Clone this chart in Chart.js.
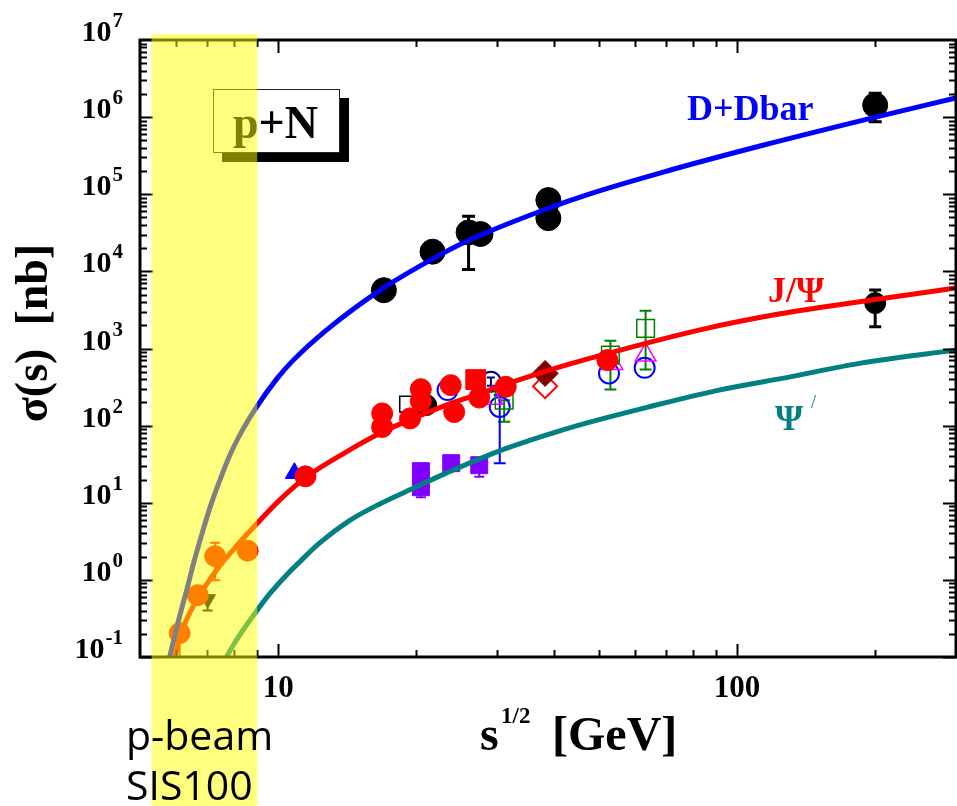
<!DOCTYPE html>
<html>
<head>
<meta charset="utf-8">
<title>p+N open and hidden charm cross sections</title>
<script src="https://cdn.jsdelivr.net/npm/chart.js@4.4.1/dist/chart.umd.min.js"></script>
<style>
  body { margin: 0; background: #fff; }
  canvas { display: block; }
</style>
</head>
<body>
<canvas id="chart" width="957" height="806"></canvas>
<script>
// model curves: sqrt(s) [GeV] vs sigma [nb]
const dDbarCurveX = [5.80, 5.95, 6.10, 6.32, 6.57, 6.84, 7.12, 7.45, 7.83, 8.36, 8.97, 9.92, 10.74, 12.74, 16.95, 21.67, 26.09, 38.36, 47.6, 67.9, 114.4, 200.5, 299.4];
const dDbarCurveY = [0.1, 0.186, 0.338, 0.735, 1.80, 4.16, 9.04, 19.06, 40.2, 87.4, 174, 401, 686, 1734, 6072, 14440, 25470, 64270, 100600, 188400, 434600, 1.0e6, 1.77e6];

const jpsiCurveX = [5.95, 6.10, 6.28, 6.64, 7.34, 8.11, 8.97, 10.07, 11.52, 13.94, 16.87, 19.31, 23.24, 26.48, 31.39, 40.95, 52.6, 82.6, 123.3, 203.5, 299.4];
const jpsiCurveY = [0.1, 0.175, 0.283, 0.546, 1.336, 2.74, 5.28, 10.8, 21.5, 44.0, 82.4, 117.8, 184.5, 241.3, 345.4, 574, 871.5, 1733, 2794, 4372, 6072];

const psiPrimeCurveX = [7.72, 8.03, 8.53, 8.97, 9.57, 10.42, 11.12, 12.30, 14.30, 16.61, 19.60, 23.24, 29.87, 38.36, 45.26, 63.95, 91.3, 129.7, 186.0, 299.4];
const psiPrimeCurveY = [0.1, 0.151, 0.259, 0.393, 0.652, 1.151, 1.696, 2.99, 5.86, 9.59, 15.2, 24.2, 45.3, 75.3, 101.5, 173.8, 288.7, 425.6, 646.6, 953];

// D + Dbar data
const dMesonX = [17.0, 21.7, 26.0, 27.6, 38.8, 38.8, 200];
const dMesonY = [5700, 18000, 32000, 30500, 84000, 49000, 1.43e6];
const dMesonLo = [null, null, 10600, null, null, null, 870000];
const dMesonHi = [null, null, 52000, null, null, null, 2.04e6];

// J/psi data
const jpsiX = [11.47, 16.85, 16.85, 19.38, 20.46, 20.46, 23.77, 24.19, 27.43, 31.33, 52.17];
const jpsiY = [22, 144, 96, 124, 297, 208, 335, 150, 231, 319, 708];
const jpsiLowX = [6.10, 6.68, 7.29, 8.58];
const jpsiLowY = [0.204, 0.634, 2.03, 2.39];
const jpsiLowLo = [0.1, null, 0.99, null];
const jpsiLowHi = [0.245, null, 3.02, null];
const jpsiSquareX = [26.95];
const jpsiSquareY = [395];
const diamondX = [38.17];
const diamondY = [475];
const openDiamondX = [38.17];
const openDiamondY = [325];
const blueTriangleX = [10.85];
const blueTriangleY = [24.2];
const downTriangleX = [7.02];
const downTriangleY = [0.562];
const downTriangleLo = [0.40];
const downTriangleHi = [0.62];
const blackJpsiX = [21.02, 200];
const blackJpsiY = [184.5, 3880];
const blackJpsiLo = [null, 1912];
const blackJpsiHi = [null, 5720];
const openSquareX = [19.14];
const openSquareY = [190];
const greenX = [31.08, 52.97, 63.2];
const greenY = [214, 821, 1823];
const greenLo = [112, 295, 535];
const greenHi = [214, 1259, 3083];
const magentaX = [29.3, 53.5, 63.2];
const magentaY = [227, 640, 821];
const openCircleX = [23.4, 30.4, 52.6, 62.9];
const openCircleY = [289, 175, 475, 562];
const openCircleLo = [null, 32.4, null, null];
const openCircleHi = [null, 249, null, null];
const navyX = [29.08];
const navyY = [370];
const navyLo = [330];
const navyHi = [420];

// psi' data
const psiPrimeX = [20.47, 20.47, 23.83, 27.43];
const psiPrimeY = [25.7, 15.9, 32.6, 30.7];
const psiPrimeLo = [null, 11.8, null, 21.7];
const psiPrimeHi = [null, 15.9, null, 30.7];

// axes
const yTickExponents = [-1, 0, 1, 2, 3, 4, 5, 6, 7];
const xTickValues = [10, 100];
const xTickLabels = ['10', '100'];
const sisBand = [5.3, 9.0];

const serif = '"Liberation Serif", "Times New Roman", serif';

const points = (xs, ys) => xs.map((v, i) => ({ x: v, y: ys[i] }));

const curve = (xs, ys, color) => ({
  data: points(xs, ys),
  showLine: true,
  borderColor: color,
  borderWidth: 5,
  pointRadius: 0,
  cubicInterpolationMode: 'monotone',
  fill: false,
});

const marker = (xs, ys, style, radius, fillColor, lineColor, extra) => Object.assign({
  data: points(xs, ys),
  pointStyle: style,
  pointRadius: radius,
  pointBackgroundColor: fillColor,
  pointBorderColor: lineColor,
  pointBorderWidth: 1,
}, extra || {});

const datasets = [
  curve(dDbarCurveX, dDbarCurveY, '#0000ff'),
  curve(jpsiCurveX, jpsiCurveY, '#ff0000'),
  curve(psiPrimeCurveX, psiPrimeCurveY, '#008080'),
  marker(jpsiX, jpsiY, 'circle', 10.5, '#ff0000', '#ff0000'),
  marker(jpsiLowX, jpsiLowY, 'circle', 10.5, '#ff0000', '#ff0000', { errLo: jpsiLowLo, errHi: jpsiLowHi }),
  marker(jpsiSquareX, jpsiSquareY, 'rect', 14, '#ff0000', '#ff0000'),
  marker(diamondX, diamondY, 'rectRot', 13, '#800000', '#800000'),
  marker(openDiamondX, openDiamondY, 'rectRot', 12, 'transparent', '#ff0000', { pointBorderWidth: 2 }),
  marker(blueTriangleX, blueTriangleY, 'triangle', 10.5, '#0000ff', '#0000ff'),
  marker(downTriangleX, downTriangleY, 'triangle', 9, '#000000', '#000000', { pointRotation: 180, errLo: downTriangleLo, errHi: downTriangleHi }),
  marker(dMesonX, dMesonY, 'circle', 12.5, '#000000', '#000000', { errLo: dMesonLo, errHi: dMesonHi, errWidth: 3, capWidth: 13 }),
  marker(blackJpsiX, blackJpsiY, 'circle', 10.5, '#000000', '#000000', { errLo: blackJpsiLo, errHi: blackJpsiHi, errWidth: 3, capWidth: 12 }),
  marker(openSquareX, openSquareY, 'rect', 11, 'transparent', '#000000', { pointBorderWidth: 1.5 }),
  marker(psiPrimeX, psiPrimeY, 'rect', 12, '#8000ff', '#8000ff', { errLo: psiPrimeLo, errHi: psiPrimeHi, capWidth: 10 }),
  marker(greenX, greenY, 'rect', 12.5, 'transparent', '#008000', { pointBorderWidth: 1.5, errLo: greenLo, errHi: greenHi, capWidth: 12 }),
  marker(magentaX, magentaY, 'triangle', 12, 'transparent', '#ff00ff', { pointBorderWidth: 1.5 }),
  marker(openCircleX, openCircleY, 'circle', 10, 'transparent', '#0000ff', { pointBorderWidth: 2, errLo: openCircleLo, errHi: openCircleHi, capWidth: 12 }),
  marker(navyX, navyY, 'circle', 10, 'transparent', '#000080', { pointBorderWidth: 2, errLo: navyLo, errHi: navyHi, capWidth: 8 }),
];

// vertical error bars with caps, under the markers
const errorBars = {
  id: 'errorBars',
  beforeDatasetsDraw(chart) {
    const { ctx, scales: { x, y } } = chart;
    ctx.save();
    chart.data.datasets.forEach((ds) => {
      if (!ds.errLo) return;
      ctx.strokeStyle = ds.pointBorderColor;
      ctx.lineWidth = ds.errWidth || 2;
      const cap = (ds.capWidth || 10) / 2;
      ds.data.forEach((p, i) => {
        if (ds.errLo[i] == null) return;
        const px = x.getPixelForValue(p.x);
        const y0 = y.getPixelForValue(ds.errLo[i]);
        const y1 = y.getPixelForValue(ds.errHi[i]);
        ctx.beginPath();
        ctx.moveTo(px, y0);
        ctx.lineTo(px, y1);
        ctx.moveTo(px - cap, y0);
        ctx.lineTo(px + cap, y0);
        ctx.moveTo(px - cap, y1);
        ctx.lineTo(px + cap, y1);
        ctx.stroke();
      });
    });
    ctx.restore();
  },
};

// frame with inward log ticks, labels, annotations and the SIS100 band
const frame = {
  id: 'frame',
  beforeDraw(chart) {
    const { ctx, width, height } = chart;
    ctx.save();
    ctx.fillStyle = '#fff';
    ctx.fillRect(0, 0, width, height);
    ctx.restore();
  },
  afterDatasetsDraw(chart) {
    const { ctx, chartArea: { left, right, top, bottom }, scales: { x, y } } = chart;
    ctx.save();

    ctx.strokeStyle = '#000';
    ctx.lineWidth = 3;
    ctx.strokeRect(left, top, right - left, bottom - top);

    ctx.lineWidth = 2;
    ctx.beginPath();
    for (let e = -1; e < 7; e++) {
      for (let m = 1; m < 10; m++) {
        const py = Math.round(y.getPixelForValue(m * Math.pow(10, e))) + 0.5;
        const len = m === 1 ? 13 : 7;
        ctx.moveTo(left, py);
        ctx.lineTo(left + len, py);
        ctx.moveTo(right, py);
        ctx.lineTo(right - len, py);
      }
    }
    for (let e = 0; e < 3; e++) {
      for (let m = 1; m < 10; m++) {
        const v = m * Math.pow(10, e);
        if (v <= 5 || v >= 300) continue;
        const px = Math.round(x.getPixelForValue(v)) + 0.5;
        const len = m === 1 ? 13 : 7;
        ctx.moveTo(px, bottom);
        ctx.lineTo(px, bottom - len);
        ctx.moveTo(px, top);
        ctx.lineTo(px, top + len);
      }
    }
    ctx.stroke();

    // tick labels
    ctx.fillStyle = '#000';
    ctx.textBaseline = 'alphabetic';
    yTickExponents.forEach((e) => {
      const py = y.getPixelForValue(Math.pow(10, e)) + 1;
      const sup = e < 0 ? '-' + Math.abs(e) : String(e);
      ctx.textAlign = 'right';
      ctx.font = 'bold 21px ' + serif;
      ctx.fillText(sup, 123, py - 14);
      const w = ctx.measureText(sup).width;
      ctx.font = 'bold 30px ' + serif;
      ctx.fillText('10', 122 - w, py);
    });
    ctx.textAlign = 'center';
    ctx.font = 'bold 31px ' + serif;
    xTickValues.forEach((v, i) => {
      ctx.fillText(xTickLabels[i], x.getPixelForValue(v), 697);
    });

    // axis titles
    ctx.textAlign = 'left';
    ctx.font = 'bold 48px ' + serif;
    ctx.fillText('s', 480, 750);
    ctx.fillText('[GeV]', 552, 750);
    ctx.font = 'bold 23px ' + serif;
    ctx.fillText('1/2', 501, 723);

    ctx.save();
    ctx.translate(47, 333);
    ctx.rotate(-Math.PI / 2);
    ctx.textAlign = 'center';
    ctx.font = 'bold 46px ' + serif;
    ctx.fillText('σ(s)  [nb]', 0, 0);
    ctx.restore();

    // curve labels
    ctx.textAlign = 'left';
    ctx.font = 'bold 36px ' + serif;
    ctx.fillStyle = '#0000ff';
    ctx.fillText('D+Dbar', 687, 120);
    ctx.fillStyle = '#ff0000';
    ctx.fillText('J/Ψ', 768, 302);
    ctx.fillStyle = '#008080';
    ctx.fillText('Ψ', 775, 430);
    ctx.font = '18px ' + serif;
    ctx.fillText('/', 811, 408);

    // p+N box with drop shadow
    ctx.fillStyle = '#000';
    ctx.fillRect(222, 98, 127, 64);
    ctx.fillStyle = '#fff';
    ctx.fillRect(213, 89, 127, 64);
    ctx.strokeStyle = '#222';
    ctx.lineWidth = 1;
    ctx.strokeRect(213.5, 89.5, 126, 63);
    ctx.fillStyle = '#000';
    ctx.font = 'bold 46px ' + serif;
    ctx.fillText('p+N', 233, 138);

    // SIS100 proton beam range
    const bx0 = x.getPixelForValue(sisBand[0]);
    const bx1 = x.getPixelForValue(sisBand[1]);
    ctx.fillStyle = 'rgba(255, 255, 0, 0.5)';
    ctx.fillRect(bx0, top - 6, bx1 - bx0, chart.height - top + 6);

    ctx.fillStyle = '#000';
    ctx.font = '41px "Open Sans", "Noto Sans", sans-serif';
    ctx.fillText('p-beam', 126, 750);
    ctx.fillText('SIS100', 126, 800);

    ctx.restore();
  },
};

new Chart(document.getElementById('chart'), {
  type: 'scatter',
  data: { datasets },
  options: {
    responsive: false,
    animation: false,
    events: [],
    layout: { autoPadding: false, padding: { left: 140, top: 40, right: 1, bottom: 149 } },
    scales: {
      x: { type: 'logarithmic', min: 5, max: 300, display: false },
      y: { type: 'logarithmic', min: 0.1, max: 1e7, display: false },
    },
    plugins: {
      legend: { display: false },
      tooltip: { enabled: false },
    },
  },
  plugins: [errorBars, frame],
});
</script>
</body>
</html>
